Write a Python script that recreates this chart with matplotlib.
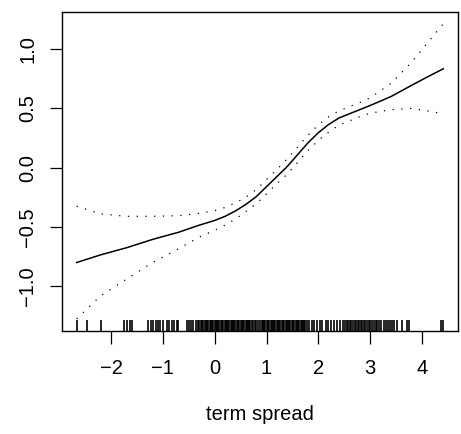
import matplotlib

matplotlib.use("Agg")
import matplotlib.pyplot as plt
import matplotlib.transforms as mtransforms

# smooth term s(term spread): grid, fit and the +/- 2 se band
grid_x = [-2.665, -2.2, -1.7, -1.2, -0.7, -0.3, 0.0, 0.2, 0.4, 0.6, 0.8, 1.0, 1.2, 1.4,
          1.6, 1.8, 2.0, 2.2, 2.4, 2.6, 2.8, 3.0, 3.4, 3.8, 4.1, 4.414]
fit = [-0.80, -0.735, -0.675, -0.605, -0.545, -0.485, -0.445, -0.41, -0.365, -0.31,
       -0.245, -0.16, -0.075, 0.01, 0.11, 0.21, 0.295, 0.365, 0.42, 0.455, 0.49, 0.525,
       0.60, 0.695, 0.765, 0.835]
upper = [-0.325, -0.39, -0.41, -0.41, -0.405, -0.385, -0.362, -0.335, -0.297, -0.25,
         -0.185, -0.10, -0.015, 0.075, 0.175, 0.275, 0.36, 0.43, 0.48, 0.515, 0.55, 0.59,
         0.71, 0.89, 1.05, 1.215]
lower = [-1.275, -1.08, -0.94, -0.80, -0.685, -0.585, -0.528, -0.485, -0.433, -0.37,
         -0.305, -0.22, -0.135, -0.055, 0.045, 0.145, 0.23, 0.30, 0.36, 0.395, 0.43, 0.46,
         0.49, 0.50, 0.48, 0.455]

# observed term spread values (rug)
rug_x = [
    -2.665, -2.46, -2.20, -1.745, -1.70, -1.635, -1.60, -1.28, -1.236, -1.185, -1.133,
    -1.088, -1.056, -1.004, -0.93, -0.88, -0.83, -0.78, -0.73, -0.70, -0.54, -0.50,
    -0.46, -0.41, -0.37,
    -0.32, -0.30, -0.27, -0.25, -0.22, -0.19, -0.17, -0.15, -0.12, -0.10, -0.08, -0.05,
    -0.03, 0.00, 0.02, 0.05, 0.07, 0.09, 0.12, 0.14, 0.16, 0.19, 0.21, 0.24, 0.26, 0.28,
    0.31, 0.33, 0.36, 0.38, 0.40, 0.43, 0.45, 0.47, 0.50, 0.52, 0.55, 0.57, 0.60, 0.62,
    0.64, 0.67, 0.69, 0.72, 0.74, 0.77, 0.80, 0.84, 0.88, 0.91, 0.93, 0.96, 0.98, 1.01,
    1.03, 1.05, 1.08, 1.10, 1.13, 1.15, 1.17, 1.20, 1.22, 1.25, 1.27, 1.29, 1.32, 1.34,
    1.37, 1.39, 1.41, 1.44, 1.46, 1.49, 1.51, 1.53, 1.56, 1.58, 1.61, 1.63, 1.66, 1.68,
    1.70, 1.73, 1.75, 1.78, 1.83, 1.87, 1.92, 1.97, 2.03, 2.08, 2.14, 2.19, 2.25, 2.31,
    2.36, 2.42, 2.48, 2.52, 2.55, 2.58, 2.61, 2.64, 2.67, 2.70, 2.73, 2.76, 2.79, 2.82,
    2.85, 2.88, 2.91, 2.94, 2.97, 3.00, 3.04, 3.07, 3.11, 3.14, 3.18, 3.22, 3.26, 3.30,
    3.34, 3.38, 3.43, 3.47, 3.52, 3.61, 3.71, 3.75, 4.37, 4.414,
]

x_ticks = [-2, -1, 0, 1, 2, 3, 4]
y_ticks = [-1.0, -0.5, 0.0, 0.5, 1.0]

plt.rcParams["font.family"] = ["Liberation Sans", "DejaVu Sans"]
plt.rcParams["axes.unicode_minus"] = True

fig = plt.figure(figsize=(4.61, 4.34), dpi=100)
ax = fig.add_axes([0.1345, 0.2373, 0.859, 0.735])

ax.plot(grid_x, fit, color="black", lw=1.1)
ax.plot(grid_x, upper, color="black", lw=0.9, linestyle=(0, (1, 6)))
ax.plot(grid_x, lower, color="black", lw=0.9, linestyle=(0, (1, 6)))

# rug along the bottom, height as a fraction of the panel
trans = mtransforms.blended_transform_factory(ax.transData, ax.transAxes)
ax.vlines(rug_x, 0, 0.035, transform=trans, color="black", lw=1.2)

ax.set_xlim(-2.948, 4.697)
ax.set_ylim(-1.378, 1.314)
ax.set_xticks(x_ticks)
ax.set_xticklabels([f"{t:g}".replace("-", "\u2212") for t in x_ticks])
ax.set_yticks(y_ticks)
ax.set_yticklabels([f"{t:.1f}".replace("-", "\u2212") for t in y_ticks],
                   rotation=90, va="center")
ax.tick_params(direction="out", length=9, width=0.9, labelsize=14.5)
ax.tick_params(axis="x", pad=11.5)
ax.tick_params(axis="y", pad=9)
for sp in ax.spines.values():
    sp.set_linewidth(1.0)

ax.set_xlabel("term spread", fontsize=14.5, labelpad=19)

fig.savefig("out.png", dpi=100)
